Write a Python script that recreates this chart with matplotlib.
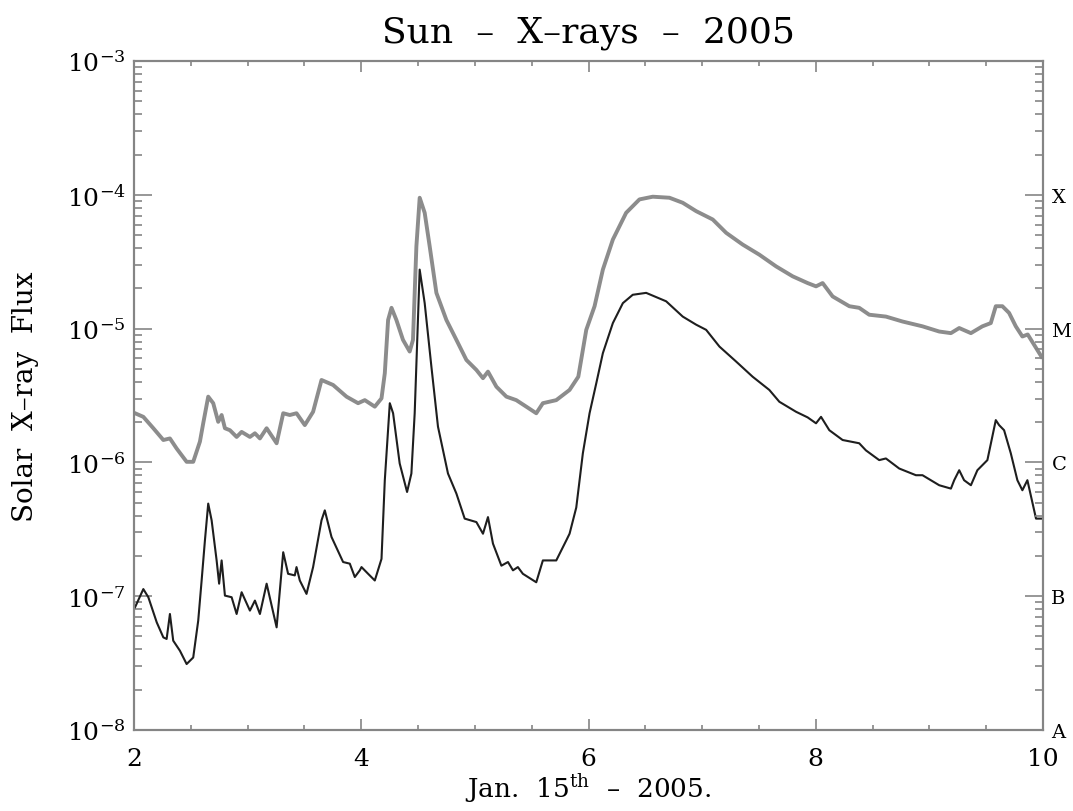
import matplotlib
matplotlib.use('Agg')
import matplotlib.pyplot as plt
from matplotlib.ticker import LogLocator, MultipleLocator, LogFormatterSciNotation, NullFormatter

plt.rcParams['font.family'] = ['DejaVu Serif']
plt.rcParams['mathtext.fontset'] = 'dejavuserif'

# Flujo de rayos X (canal largo, gris)
long_days = [2.009, 2.082, 2.170, 2.258, 2.316, 2.375, 2.463, 2.521, 2.580, 2.609,
             2.653, 2.697, 2.741, 2.771, 2.800, 2.844, 2.903, 2.947, 3.020, 3.064,
             3.108, 3.167, 3.255, 3.313, 3.371, 3.430, 3.503, 3.576, 3.650, 3.752,
             3.870, 3.972, 4.031, 4.119, 4.178, 4.207, 4.236, 4.266, 4.309, 4.367,
             4.426, 4.455, 4.485, 4.514, 4.558, 4.602, 4.661, 4.749, 4.837, 4.925,
             5.013, 5.071, 5.115, 5.189, 5.277, 5.364, 5.452, 5.540, 5.598, 5.716,
             5.833, 5.910, 5.980, 6.053, 6.126, 6.214, 6.331, 6.448, 6.565, 6.712,
             6.829, 6.947, 7.093, 7.211, 7.356, 7.503, 7.650, 7.796, 7.928, 8.002,
             8.060, 8.148, 8.295, 8.382, 8.470, 8.617, 8.763, 8.939, 9.086, 9.189,
             9.262, 9.365, 9.466, 9.540, 9.584, 9.642, 9.701, 9.760, 9.818, 9.865,
             9.987]
long_flux = [2.33e-6, 2.19e-6, 1.80e-6, 1.47e-6, 1.51e-6, 1.27e-6, 1.01e-6, 1.01e-6, 1.43e-6, 1.96e-6,
             3.10e-6, 2.77e-6, 2.01e-6, 2.26e-6, 1.80e-6, 1.74e-6, 1.55e-6, 1.69e-6, 1.55e-6, 1.65e-6,
             1.51e-6, 1.80e-6, 1.39e-6, 2.33e-6, 2.26e-6, 2.33e-6, 1.90e-6, 2.39e-6, 4.13e-6, 3.79e-6,
             3.10e-6, 2.77e-6, 2.92e-6, 2.61e-6, 3.01e-6, 4.64e-6, 1.16e-5, 1.43e-5, 1.16e-5, 8.24e-6,
             6.74e-6, 8.24e-6, 4.12e-5, 9.51e-5, 7.34e-5, 4.12e-5, 1.85e-5, 1.16e-5, 8.24e-6, 5.83e-6,
             4.91e-6, 4.26e-6, 4.77e-6, 3.68e-6, 3.10e-6, 2.92e-6, 2.61e-6, 2.33e-6, 2.77e-6, 2.92e-6,
             3.48e-6, 4.37e-6, 9.79e-6, 1.47e-5, 2.76e-5, 4.63e-5, 7.34e-5, 9.24e-5, 9.68e-5, 9.51e-5,
             8.72e-5, 7.55e-5, 6.54e-5, 5.20e-5, 4.25e-5, 3.57e-5, 2.92e-5, 2.46e-5, 2.19e-5, 2.07e-5,
             2.19e-5, 1.74e-5, 1.47e-5, 1.43e-5, 1.27e-5, 1.23e-5, 1.13e-5, 1.04e-5, 9.51e-6, 9.25e-6,
             1.01e-5, 9.25e-6, 1.04e-5, 1.10e-5, 1.47e-5, 1.47e-5, 1.31e-5, 1.04e-5, 8.73e-6, 9.04e-6,
             6.15e-6]

# Flujo de rayos X (canal corto, negro)
short_days = [2.009, 2.082, 2.126, 2.200, 2.258, 2.287, 2.316, 2.345, 2.404, 2.463,
              2.521, 2.565, 2.595, 2.624, 2.653, 2.683, 2.727, 2.749, 2.771, 2.800,
              2.859, 2.903, 2.947, 3.020, 3.064, 3.108, 3.167, 3.255, 3.313, 3.356,
              3.415, 3.430, 3.459, 3.518, 3.576, 3.650, 3.679, 3.738, 3.840, 3.899,
              3.943, 3.987, 4.002, 4.060, 4.119, 4.178, 4.207, 4.251, 4.280, 4.338,
              4.403, 4.441, 4.470, 4.514, 4.558, 4.617, 4.675, 4.763, 4.837, 4.910,
              5.013, 5.071, 5.115, 5.159, 5.233, 5.291, 5.335, 5.378, 5.422, 5.540,
              5.598, 5.716, 5.804, 5.833, 5.892, 5.950, 6.009, 6.068, 6.126, 6.214,
              6.302, 6.389, 6.507, 6.683, 6.829, 6.947, 7.035, 7.152, 7.299, 7.444,
              7.591, 7.679, 7.826, 7.928, 8.002, 8.046, 8.119, 8.236, 8.382, 8.441,
              8.558, 8.617, 8.734, 8.881, 8.939, 9.086, 9.189, 9.218, 9.262, 9.305,
              9.365, 9.422, 9.510, 9.584, 9.613, 9.657, 9.716, 9.774, 9.818, 9.862,
              9.938, 9.987]
short_flux = [8.26e-8, 1.13e-7, 9.82e-8, 6.37e-8, 4.92e-8, 4.79e-8, 7.36e-8, 4.65e-8, 3.91e-8, 3.11e-8,
              3.48e-8, 6.56e-8, 1.31e-7, 2.61e-7, 4.92e-7, 3.69e-7, 1.85e-7, 1.24e-7, 1.85e-7, 1.01e-7,
              9.82e-8, 7.36e-8, 1.07e-7, 7.80e-8, 9.27e-8, 7.36e-8, 1.24e-7, 5.85e-8, 2.13e-7, 1.47e-7,
              1.43e-7, 1.65e-7, 1.31e-7, 1.04e-7, 1.65e-7, 3.69e-7, 4.38e-7, 2.77e-7, 1.80e-7, 1.75e-7,
              1.39e-7, 1.56e-7, 1.65e-7, 1.47e-7, 1.31e-7, 1.90e-7, 7.36e-7, 2.77e-6, 2.33e-6, 9.82e-7,
              6.01e-7, 8.26e-7, 2.33e-6, 2.76e-5, 1.55e-5, 5.20e-6, 1.85e-6, 8.26e-7, 5.85e-7, 3.80e-7,
              3.58e-7, 2.93e-7, 3.90e-7, 2.47e-7, 1.69e-7, 1.80e-7, 1.56e-7, 1.65e-7, 1.47e-7, 1.27e-7,
              1.85e-7, 1.85e-7, 2.61e-7, 2.93e-7, 4.60e-7, 1.17e-6, 2.33e-6, 3.90e-6, 6.55e-6, 1.10e-5,
              1.55e-5, 1.79e-5, 1.85e-5, 1.60e-5, 1.23e-5, 1.07e-5, 9.79e-6, 7.34e-6, 5.67e-6, 4.37e-6,
              3.48e-6, 2.84e-6, 2.39e-6, 2.17e-6, 1.96e-6, 2.19e-6, 1.74e-6, 1.47e-6, 1.39e-6, 1.23e-6,
              1.04e-6, 1.07e-6, 9.00e-7, 8.02e-7, 8.02e-7, 6.75e-7, 6.37e-7, 7.36e-7, 8.74e-7, 7.36e-7,
              6.75e-7, 8.74e-7, 1.04e-6, 2.07e-6, 1.90e-6, 1.74e-6, 1.17e-6, 7.36e-7, 6.19e-7, 7.36e-7,
              3.80e-7, 3.80e-7]

# Clases de fulguraciones en el eje derecho
class_levels = [1e-8, 1e-7, 1e-6, 1e-5, 1e-4]
class_labels = ['A', 'B', 'C', 'M', 'X']

axis_grey = '#858585'

fig = plt.figure(figsize=(10.73, 8.12), dpi=100)
ax = fig.add_axes([0.1249, 0.0998, 0.8472, 0.8238])

ax.plot(long_days, long_flux, color='#8c8c8c', linewidth=2.8, solid_joinstyle='round')
ax.plot(short_days, short_flux, color='#1e1e1e', linewidth=1.5, solid_joinstyle='round')

ax.set_yscale('log')
ax.set_xlim(2, 10)
ax.set_ylim(1e-8, 1e-3)

ax.xaxis.set_major_locator(MultipleLocator(2))
ax.xaxis.set_minor_locator(MultipleLocator(0.5))
ax.yaxis.set_major_locator(LogLocator(base=10, numticks=10))
ax.yaxis.set_minor_locator(LogLocator(base=10, subs=range(2, 10), numticks=20))
ax.yaxis.set_major_formatter(LogFormatterSciNotation())
ax.yaxis.set_minor_formatter(NullFormatter())

for s in ax.spines.values():
    s.set_color(axis_grey)
    s.set_linewidth(1.5)

ax.tick_params(axis='x', which='both', direction='in', top=True, bottom=True,
               color=axis_grey, width=1.2, labelsize=18, pad=12)
ax.tick_params(axis='x', which='major', length=8)
ax.tick_params(axis='x', which='minor', length=3.5)
ax.tick_params(axis='y', which='both', direction='in', left=True, right=False,
               color=axis_grey, width=1.2, labelsize=18, pad=6)
ax.tick_params(axis='y', which='major', length=13)
ax.tick_params(axis='y', which='minor', length=6)

# Eje derecho con las clases A, B, C, M, X
ax2 = ax.twinx()
ax2.set_yscale('log')
ax2.set_ylim(1e-8, 1e-3)
ax2.set_yticks(class_levels)
ax2.set_yticklabels(class_labels)
ax2.yaxis.set_minor_locator(LogLocator(base=10, subs=range(2, 10), numticks=20))
ax2.yaxis.set_minor_formatter(NullFormatter())
ax2.tick_params(axis='y', which='both', direction='in', color=axis_grey, width=1.2,
                labelsize=14, pad=6)
ax2.tick_params(axis='y', which='major', length=13)
ax2.tick_params(axis='y', which='minor', length=6)
for s in ax2.spines.values():
    s.set_color(axis_grey)
    s.set_linewidth(1.5)

ax.set_title('Sun  \u2013  X\u2013rays  \u2013  2005', fontsize=26, pad=14)
ax.set_xlabel('Jan.  15$^{\\mathrm{th}}$  \u2013  2005.', fontsize=19, labelpad=1)
ax.set_ylabel('Solar  X\u2013ray  Flux', fontsize=20, labelpad=20)

plt.savefig('out.png', dpi=100)
